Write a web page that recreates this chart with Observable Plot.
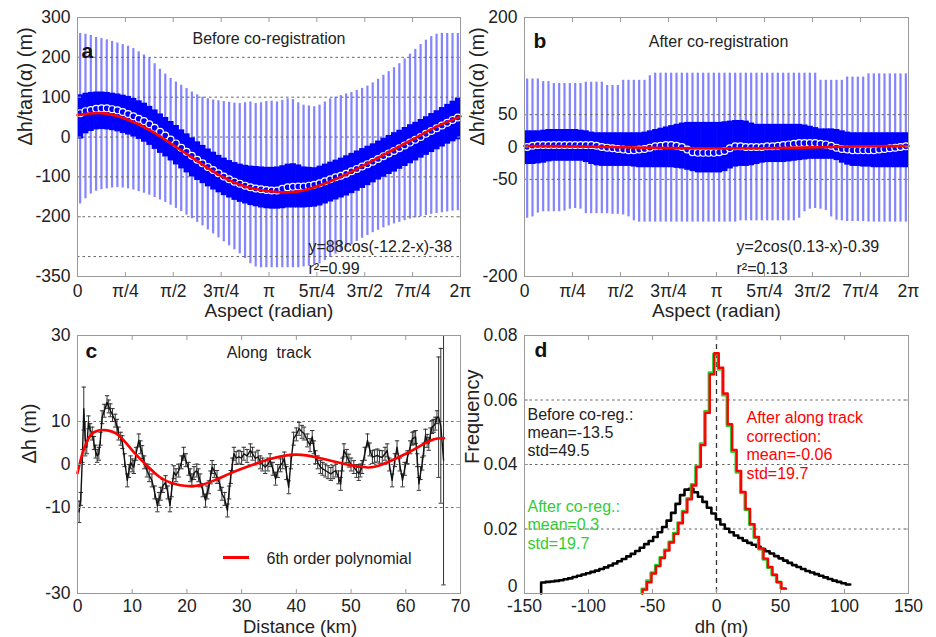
<!DOCTYPE html>
<html><head><meta charset="utf-8">
<script src="https://cdn.jsdelivr.net/npm/d3@7"></script>
<script src="https://cdn.jsdelivr.net/npm/@observablehq/plot@0.6"></script>
<style>
body{margin:0;background:#fff;}
#wrap{position:relative;width:936px;height:637px;overflow:hidden;background:#fff;}
#wrap > *{position:absolute;}
</style></head><body><div id="wrap"></div>
<script>
// ---------------- DATA ----------------
// Panels a and b: 5-degree aspect bins (bin centres, degrees)
const aspectDeg = [2.5,7.5,12.5,17.5,22.5,27.5,32.5,37.5,42.5,47.5,52.5,57.5,62.5,67.5,72.5,77.5,82.5,87.5,92.5,97.5,102.5,107.5,112.5,117.5,122.5,127.5,132.5,137.5,142.5,147.5,152.5,157.5,162.5,167.5,172.5,177.5,182.5,187.5,192.5,197.5,202.5,207.5,212.5,217.5,222.5,227.5,232.5,237.5,242.5,247.5,252.5,257.5,262.5,267.5,272.5,277.5,282.5,287.5,292.5,297.5,302.5,307.5,312.5,317.5,322.5,327.5,332.5,337.5,342.5,347.5,352.5,357.5];
const aspectTickValues = [0, Math.PI/4, Math.PI/2, 3*Math.PI/4, Math.PI, 5*Math.PI/4, 3*Math.PI/2, 7*Math.PI/4, 2*Math.PI];
const aspectTickLabels = ["0","π/4","π/2","3π/4","π","5π/4","3π/2","7π/4","2π"];

// Panel a: before co-registration
const meanA = [60,65,68,71,72,72,70,67,63,58,52,46,40,32,23,13,4,-6,-16,-27,-37,-47,-57,-66,-75,-83,-91,-99,-106,-112,-117,-122,-126,-129,-131,-133,-134,-134,-130,-126,-125,-124,-124,-122,-120,-116,-111,-106,-101,-97,-92,-86,-80,-74,-68,-62,-55,-48,-41,-35,-28,-21,-14,-7,0,8,15,22,29,36,43,49];
const bandUpA = [106,110,112,113,113,112,110,108,105,102,97,91,85,77,68,58,49,39,29,18,8,-2,-12,-21,-30,-38,-46,-53,-59,-64,-68,-71,-73,-74,-75,-76,-76,-75,-72,-68,-67,-70,-75,-76,-77,-73,-68,-63,-58,-53,-47,-41,-35,-29,-23,-17,-10,-3,4,11,17,24,31,37,44,51,59,66,74,82,90,98];
const bandLoA = [-5,8,14,18,19,18,16,13,9,5,0,-6,-13,-21,-31,-41,-50,-60,-70,-80,-90,-100,-109,-117,-125,-133,-140,-147,-153,-159,-164,-168,-172,-175,-178,-180,-181,-181,-180,-178,-178,-178,-178,-177,-176,-173,-168,-163,-158,-153,-148,-142,-136,-129,-122,-115,-108,-101,-94,-88,-81,-74,-67,-60,-53,-46,-39,-32,-25,-18,-12,-7];
const thinUpA = [260,258,255,250,247,244,240,236,232,228,222,214,206,197,184,170,158,147,138,130,122,113,106,100,96,93,91,89,87,85,84,86,88,84,86,89,90,88,92,96,94,86,80,78,76,80,88,96,100,104,108,112,117,122,128,136,145,155,164,174,184,196,208,220,232,243,252,258,260,260,260,260];
const thinLoA = [-168,-155,-143,-136,-132,-130,-128,-127,-128,-130,-133,-137,-141,-146,-152,-158,-164,-171,-179,-187,-196,-205,-214,-223,-233,-243,-253,-263,-273,-283,-293,-305,-318,-326,-328,-328,-328,-328,-328,-328,-328,-328,-326,-324,-322,-318,-310,-302,-294,-286,-278,-270,-262,-254,-247,-240,-234,-228,-223,-218,-214,-210,-206,-203,-200,-197,-194,-192,-190,-188,-186,-185];
const fitDegA = [0,22.5,45,67.5,90,112.5,135,157.5,180,202.5,225,247.5,270,292.5,315,337.5,360];
const fitA = [55,60,46,18,-20,-60,-98,-124,-136,-138,-124,-100,-70,-38,-6,26,52];

// Panel b: after co-registration
const meanB = [0,2,3,3,3,3,3,3,3,3,3,3,3,2,0,-1,-2,-3,-4,-5,-5,-4,-3,-1,1,2,3,3,2,0,-4,-8,-9,-9,-9,-9,-8,-6,-2,1,1,0,0,0,0,1,1,2,3,4,5,6,6,6,6,5,4,2,-1,-3,-4,-5,-5,-5,-5,-5,-4,-3,-2,-1,0,1];
const bandUpB = [25,25,25,26,27,27,27,27,27,27,26,25,23,22,22,22,22,22,22,22,22,22,23,25,27,29,31,33,35,37,38,38,38,38,38,38,38,39,40,41,41,40,37,35,35,35,35,35,35,35,35,35,34,32,30,28,28,28,27,25,23,22,22,22,22,22,22,22,22,22,22,22];
const bandLoB = [-27,-27,-26,-25,-23,-22,-22,-22,-22,-22,-22,-24,-27,-29,-30,-30,-30,-30,-30,-30,-31,-32,-32,-32,-32,-32,-32,-32,-33,-34,-36,-38,-40,-40,-40,-40,-40,-38,-34,-31,-30,-30,-29,-27,-25,-24,-24,-24,-24,-23,-22,-21,-20,-19,-19,-19,-19,-19,-21,-25,-28,-30,-30,-31,-31,-32,-32,-32,-32,-32,-32,-32];
const thinUpB = [105,105,105,101,101,98,98,98,98,98,98,100,100,100,100,95,95,95,103,103,103,103,103,110,114,114,114,114,114,114,114,114,114,114,114,114,114,114,114,114,114,114,114,114,114,114,114,114,114,114,114,114,114,114,114,103,103,103,103,103,108,108,108,108,113,113,113,113,113,113,113,113];
const thinLoB = [-110,-108,-102,-100,-100,-100,-100,-99,-96,-95,-96,-103,-103,-103,-103,-103,-104,-104,-105,-108,-114,-116,-116,-116,-116,-116,-116,-116,-116,-116,-116,-116,-116,-116,-116,-116,-116,-116,-116,-116,-114,-114,-114,-114,-114,-114,-114,-114,-114,-114,-114,-110,-100,-96,-95,-96,-98,-108,-113,-114,-115,-115,-115,-115,-116,-116,-116,-116,-116,-116,-116,-116];
const fitDegB = [0,45,90,135,180,225,270,315,360];
const fitB = [1.6,1.0,-0.4,-1.7,-2.4,-2.0,-0.6,0.9,1.6];

// Panel c: along track
const kmC = [0.3,0.6,0.9,1.15,1.4,1.7,2.0,2.3,2.7,3.0,3.3,3.6,3.9,4.2,4.5,4.9,5.4,5.7,6.0,6.4,6.9,7.2,7.5,7.9,8.2,8.6,9.1,9.4,9.7,10.0,10.3,10.7,11.2,11.5,11.8,12.2,12.7,13.1,13.6,14.1,14.6,14.9,15.2,15.6,16.1,16.5,16.9,17.2,17.6,18.0,18.5,19.0,19.4,19.8,20.3,20.6,20.9,21.3,21.8,22.1,22.4,22.9,23.4,23.7,24.0,24.3,24.6,25.0,25.5,26.0,26.4,26.9,27.4,27.7,28.0,28.3,28.6,29.0,29.5,30.0,30.4,31.0,31.6,32.0,32.5,33.0,33.4,33.8,34.3,34.8,35.2,35.7,36.2,36.6,37.1,37.5,37.8,38.2,38.6,39.0,39.5,40.0,40.5,41.0,41.4,42.0,42.5,42.9,43.2,43.5,43.9,44.4,44.8,45.3,45.8,46.3,46.7,47.2,47.7,48.1,48.4,48.7,49.2,49.6,50.0,50.5,51.0,51.4,51.7,52.0,52.5,53.0,53.4,53.9,54.3,54.8,55.2,55.7,56.2,56.6,57.0,57.5,58.0,58.4,58.9,59.4,59.8,60.3,60.8,61.2,61.5,61.8,62.1,62.4,62.7,63.0,63.3,63.6,63.9,64.2,64.5,64.8,65.1,65.4,65.7,66.0,66.4,66.9];
const dhC = [-11,-8,2,13,6,4,9.8,8,7.2,5,3,2,2.5,6,11,12.5,14.5,13.5,12.6,11.5,10.2,9,7.2,6,5.2,1,-3.7,-1.5,0.5,-0.2,-0.6,2.5,5.6,4,2.9,0.5,-1.4,-2.5,-3.7,-6.5,-9.5,-8,-6.8,-5,-4.1,-6.5,-9.5,-6,-1.8,-2.5,-1.4,0.5,2.5,1,-1,-2.5,-3.7,-2,-1.4,-2.5,-3.7,-6,-8.4,-6.5,-5.3,-3,-0.6,-1.5,-2.9,-4.5,-6.8,-8,-10.7,-6.5,-2.9,0,2.5,1.5,1.8,1.5,2.5,2,3.3,2.5,1.4,1.8,0.5,0,-0.6,0,1,-1,-3.3,-1.5,-0.2,0.5,1.4,-2,-5.3,0.5,6,7,8.3,7.6,7.2,5.6,4.5,6.4,4,1.7,0.5,-0.6,-1,-1.4,-1.8,-2.2,-1.8,-1.4,-3,-4.5,0,3.3,2,0.9,0,-0.6,-1.5,-2.2,-1.4,-0.6,2.5,5.6,3.5,1.7,1.9,2.1,1.8,1.7,2.5,3.3,0,-3.7,1,4,0,-3.7,-1,1.7,4,6,6.2,6.4,1,-4.5,-2,0.2,3.5,6.7,5.5,4.8,7,8.7,9,9.5,11,11,9,1];
const typicalErrC = 1.5;
const bigErrKm = [0.3,1.15,1.4,66.0,66.4,66.9];
const bigErr = [2.5,5,4,14,18,29];
const kmPoly = [0,1,2,3,5,7.5,10,12.5,15,17.5,20,22.5,25,27.5,30,35,40,45,50,52.5,55,60,62.5,65,67];
const polyC = [-2,3,6,7.5,8,6.8,3.3,0,-2.9,-4.4,-5,-4.8,-3.7,-2.3,-1,1.2,2.3,1.3,-0.2,-0.6,-0.3,2.5,4.2,5.8,6.1];

// Panel d: histograms (3.5 m bins)
const binWidthD = 3.5;
const blackStart = -137;
const freqBefore = [0.0034,0.0036,0.0037,0.0039,0.0041,0.0044,0.0047,0.0051,0.0055,0.0059,0.0063,0.0067,0.0071,0.0076,0.0081,0.0087,0.0093,0.0100,0.0107,0.0115,0.0123,0.0132,0.0142,0.0153,0.0163,0.0175,0.0190,0.0206,0.0226,0.0250,0.0278,0.0305,0.0322,0.0325,0.0314,0.0300,0.0284,0.0266,0.0248,0.0230,0.0214,0.0201,0.0190,0.0180,0.0172,0.0164,0.0157,0.0151,0.0145,0.0138,0.0131,0.0124,0.0116,0.0109,0.0102,0.0095,0.0088,0.0082,0.0076,0.0070,0.0065,0.0060,0.0055,0.0050,0.0045,0.0040,0.0036,0.0032,0.0028];
const redStart = -57.75;
const freqAlong = [0.0012,0.0035,0.0062,0.0085,0.0110,0.0133,0.0158,0.0185,0.0218,0.0252,0.0292,0.0335,0.0392,0.0460,0.0560,0.0680,0.0745,0.0700,0.0620,0.0525,0.0445,0.0380,0.0315,0.0262,0.0215,0.0175,0.0140,0.0108,0.0082,0.0058,0.0035,0.0015];
const greenStart = -58.35;
const freqAfter = [0.0014,0.0040,0.0065,0.0088,0.0112,0.0135,0.0160,0.0187,0.0220,0.0255,0.0295,0.0338,0.0395,0.0465,0.0565,0.0685,0.0742,0.0695,0.0615,0.0520,0.0440,0.0376,0.0312,0.0260,0.0213,0.0173,0.0138,0.0106,0.0080,0.0057,0.0036,0.0016];

const yTicksA = [300,200,100,0,-100,-200,-350];
const gridA = [200,100,0,-100,-200,-300];
const yTicksB = [200,50,0,-50,-200];
const gridB = [50,0,-50];
const xTicksC = [0,10,20,30,40,50,60,70];
const yTicksC = [30,10,0,-10,-30];
const gridC = [10,0,-10];
const xTicksD = [-150,-100,-50,0,50,100,150];
const yTicksD = [0,0.02,0.04,0.06,0.08];
const gridD = [0.02,0.04,0.06];

// ---------------- STYLE ----------------
const FONT = '"Liberation Sans", Arial, Helvetica, sans-serif';
const INK = "#222";
const FRAME = "#9a9a9a";
const GRID = {stroke: "#666", strokeDasharray: "2.5,3", strokeWidth: 1};
const THIN = "#8484ff";
const BLUE = "#0000ff";
const RED = "#ff0000";
const GREEN = "#33cc33";
const TICKFONT = 17.5;
const style = {fontFamily: FONT, background: "transparent", overflow: "visible", color: INK};

function yLabels(ticks, fmt, dy = 0) {
  return Plot.axisY(ticks, {anchor: "left", tickSize: 0, tickPadding: 7, dy, tickFormat: fmt, fontSize: TICKFONT, color: INK, label: null});
}
function axes(xTicks, xFmt, yTicks, yFmt, xPad = 8, withY = true) {
  return [
    Plot.axisX(xTicks, {anchor: "bottom", tickSize: 0, tickPadding: xPad, tickFormat: xFmt, fontSize: TICKFONT, color: INK, label: null}),
    ...(withY ? [yLabels(yTicks, yFmt)] : []),
    Plot.axisX(xTicks, {anchor: "bottom", tickSize: -4, tickFormat: () => "", color: FRAME, label: null}),
    Plot.axisX(xTicks, {anchor: "top", tickSize: -4, tickFormat: () => "", color: FRAME, label: null}),
    Plot.axisY(yTicks, {anchor: "left", tickSize: -4, tickFormat: () => "", color: FRAME, label: null}),
    Plot.axisY(yTicks, {anchor: "right", tickSize: -4, tickFormat: () => "", color: FRAME, label: null})
  ];
}
function label(str, opts) {
  return Plot.text([str], {text: d => d, fill: INK, fontSize: 16, lineAnchor: "middle", ...opts});
}
const aspectFmt = d => aspectTickLabels[aspectTickValues.indexOf(d)];
const numFmt = d => String(d);
const rad = d => d * Math.PI / 180;

const wrap = document.getElementById("wrap");
function place(el, left, top) { el.style.left = left + "px"; el.style.top = top + "px"; wrap.appendChild(el); }

// ---------------- PANEL a ----------------
const aData = aspectDeg.map((d, i) => ({x: rad(d), m: meanA[i], bu: bandUpA[i], bl: bandLoA[i], tu: thinUpA[i], tl: thinLoA[i]}));
const aFit = fitDegA.map((d, i) => ({x: rad(d), y: fitA[i]}));
const plotA = Plot.plot({
  width: 468, height: 330, marginLeft: 77, marginRight: 8, marginTop: 17, marginBottom: 54,
  x: {domain: [0, 2 * Math.PI]}, y: {domain: [-350, 300]}, style,
  marks: [
    Plot.ruleX(aData, {x: "x", y1: "tl", y2: "tu", stroke: THIN, strokeWidth: 2.2}),
    Plot.ruleY(gridA, GRID),
    Plot.ruleX(aData, {x: "x", y1: "bl", y2: "bu", stroke: BLUE, strokeWidth: 6}),
    Plot.dot(aData, {x: "x", y: "m", r: 3.4, fill: BLUE, stroke: "white", strokeWidth: 1.2}),
    Plot.line(aFit, {x: "x", y: "y", stroke: RED, strokeWidth: 2.6, curve: "natural"}),
    Plot.frame({stroke: FRAME}),
    ...axes(aspectTickValues, aspectFmt, yTicksA, numFmt),
    label("a", {frameAnchor: "top-left", textAnchor: "start", dx: 4, dy: 34, fontSize: 21, fontWeight: "bold", fill: "#111"}),
    label("Before co-registration", {frameAnchor: "top", dy: 21}),
    label("y=88cos(-12.2-x)-38", {frameAnchor: "top-left", textAnchor: "start", dx: 231, dy: 229}),
    label("r²=0.99", {frameAnchor: "top-left", textAnchor: "start", dx: 231, dy: 251}),
    label("Aspect (radian)", {frameAnchor: "bottom", dy: 34, fontSize: 19}),
    label("Δh/tan(α) (m)", {frameAnchor: "left", dx: -52, dy: -1.5, rotate: -90, fontSize: 20})
  ]
});
place(plotA, 0, 0);

// ---------------- PANEL b ----------------
const bData = aspectDeg.map((d, i) => ({x: rad(d), m: meanB[i], bu: bandUpB[i], bl: bandLoB[i], tu: thinUpB[i], tl: thinLoB[i]}));
const bFit = fitDegB.map((d, i) => ({x: rad(d), y: fitB[i]}));
const plotB = Plot.plot({
  width: 468, height: 330, marginLeft: 56, marginRight: 28, marginTop: 17, marginBottom: 54,
  x: {domain: [0, 2 * Math.PI]}, y: {domain: [-200, 200]}, style,
  marks: [
    Plot.ruleX(bData, {x: "x", y1: "tl", y2: "tu", stroke: THIN, strokeWidth: 2.2}),
    Plot.ruleY(gridB, GRID),
    Plot.ruleX(bData, {x: "x", y1: "bl", y2: "bu", stroke: BLUE, strokeWidth: 6}),
    Plot.dot(bData, {x: "x", y: "m", r: 3.4, fill: BLUE, stroke: "white", strokeWidth: 1.2}),
    Plot.line(bFit, {x: "x", y: "y", stroke: RED, strokeWidth: 2.6, curve: "natural"}),
    Plot.frame({stroke: FRAME}),
    ...axes(aspectTickValues, aspectFmt, yTicksB, numFmt),
    label("b", {frameAnchor: "top-left", textAnchor: "start", dx: 9, dy: 24, fontSize: 21, fontWeight: "bold", fill: "#111"}),
    label("After co-registration", {frameAnchor: "top", dx: 2, dy: 24}),
    label("y=2cos(0.13-x)-0.39", {frameAnchor: "top-left", textAnchor: "start", dx: 212, dy: 229}),
    label("r²=0.13", {frameAnchor: "top-left", textAnchor: "start", dx: 212, dy: 251}),
    label("Aspect (radian)", {frameAnchor: "bottom", dy: 34, fontSize: 19}),
    label("Δh/tan(α) (m)", {frameAnchor: "left", dx: -47, dy: -1.5, rotate: -90, fontSize: 20})
  ]
});
place(plotB, 468, 0);

// ---------------- PANEL c ----------------
const cData = kmC.map((k, i) => {
  const j = bigErrKm.indexOf(k);
  return {x: k, y: dhC[i], e: j >= 0 ? bigErr[j] : typicalErrC};
});
const cPoly = kmPoly.map((k, i) => ({x: k, y: polyC[i]}));
const cap = 0.4;
const plotC = Plot.plot({
  width: 468, height: 319, marginLeft: 77, marginRight: 8, marginTop: 17, marginBottom: 44,
  x: {domain: [0, 70]}, y: {domain: [-30, 30]}, style,
  marks: [
    Plot.ruleY(gridC, GRID),
    Plot.ruleX(cData, {x: "x", y1: d => d.y - d.e, y2: d => d.y + d.e, stroke: "#333", strokeWidth: 1}),
    Plot.link(cData, {x1: d => d.x - cap, x2: d => d.x + cap, y1: d => d.y + d.e, y2: d => d.y + d.e, stroke: "#333", strokeWidth: 1}),
    Plot.link(cData, {x1: d => d.x - cap, x2: d => d.x + cap, y1: d => d.y - d.e, y2: d => d.y - d.e, stroke: "#333", strokeWidth: 1}),
    Plot.line(cData, {x: "x", y: "y", stroke: "#111", strokeWidth: 1.4}),
    Plot.line(cPoly, {x: "x", y: "y", stroke: RED, strokeWidth: 2.6, curve: "natural"}),
    Plot.frame({stroke: FRAME}),
    ...axes(xTicksC, numFmt, yTicksC, numFmt, 6),
    label("c", {frameAnchor: "top-left", textAnchor: "start", dx: 8, dy: 16, fontSize: 21, fontWeight: "bold", fill: "#111"}),
    label("Along\u00a0 track", {frameAnchor: "top", dy: 17}),
    label("6th order polynomial", {frameAnchor: "top-left", textAnchor: "start", dx: 189, dy: 223}),
    label("Distance (km)", {frameAnchor: "bottom", dx: 31, dy: 33.5, fontSize: 18.5}),
    label("Δh (m)", {frameAnchor: "left", dx: -48, dy: -1, rotate: -90, fontSize: 20})
  ]
});
place(plotC, 0, 318);
const sw = document.createElement("div");
sw.style.cssText = "width:26px;height:3px;background:" + RED + ";";
place(sw, 223, 556);

// ---------------- PANEL d ----------------
function stepTable(start, vals) {
  const t = [{x: start, y: 0}];
  vals.forEach((v, i) => t.push({x: start + i * binWidthD, y: v}));
  t.push({x: start + vals.length * binWidthD, y: vals[vals.length - 1]});
  return t;
}
const plotD = Plot.plot({
  width: 468, height: 319, marginLeft: 56, marginRight: 28, marginTop: 17, marginBottom: 44,
  x: {domain: [-150, 150]}, y: {domain: [0, 0.08]}, style,
  marks: [
    Plot.ruleY(gridD, GRID),
    Plot.ruleX([0], {stroke: "#333", strokeDasharray: "5,4", strokeWidth: 1.3}),
    Plot.line(stepTable(blackStart, freqBefore), {x: "x", y: "y", stroke: "#000", strokeWidth: 2.6, curve: "step-after"}),
    Plot.line(stepTable(greenStart, freqAfter), {x: "x", y: "y", stroke: GREEN, strokeWidth: 2.8, curve: "step-after"}),
    Plot.line(stepTable(redStart, freqAlong), {x: "x", y: "y", stroke: RED, strokeWidth: 2.4, curve: "step-after"}),
    Plot.frame({stroke: FRAME}),
    ...axes(xTicksD, numFmt, yTicksD, numFmt, 6, false),
    yLabels(yTicksD.filter(d => d !== 0), numFmt, 0),
    yLabels([0], numFmt, -7.5),
    label("d", {frameAnchor: "top-left", textAnchor: "start", dx: 10, dy: 15, fontSize: 21, fontWeight: "bold", fill: "#111"}),
    label("Before co-reg.:\nmean=-13.5\nstd=49.5", {frameAnchor: "top-left", textAnchor: "start", lineAnchor: "top", lineHeight: 1.145, dx: 3, dy: 71}),
    label("After co-reg.:\nmean=0.3\nstd=19.7", {frameAnchor: "top-left", textAnchor: "start", lineAnchor: "top", lineHeight: 1.145, dx: 3, dy: 163.5, fill: GREEN}),
    label("After along track\ncorrection:\nmean=-0.06\nstd=19.7", {frameAnchor: "top-left", textAnchor: "start", lineAnchor: "top", lineHeight: 1.175, dx: 222, dy: 74, fill: RED}),
    label("dh (m)", {frameAnchor: "bottom", dx: 5, dy: 33.5, fontSize: 18.5}),
    label("Frequency", {frameAnchor: "left", dx: -52, dy: -0.5, rotate: -90, fontSize: 20})
  ]
});
place(plotD, 468, 318);
</script></body></html>
